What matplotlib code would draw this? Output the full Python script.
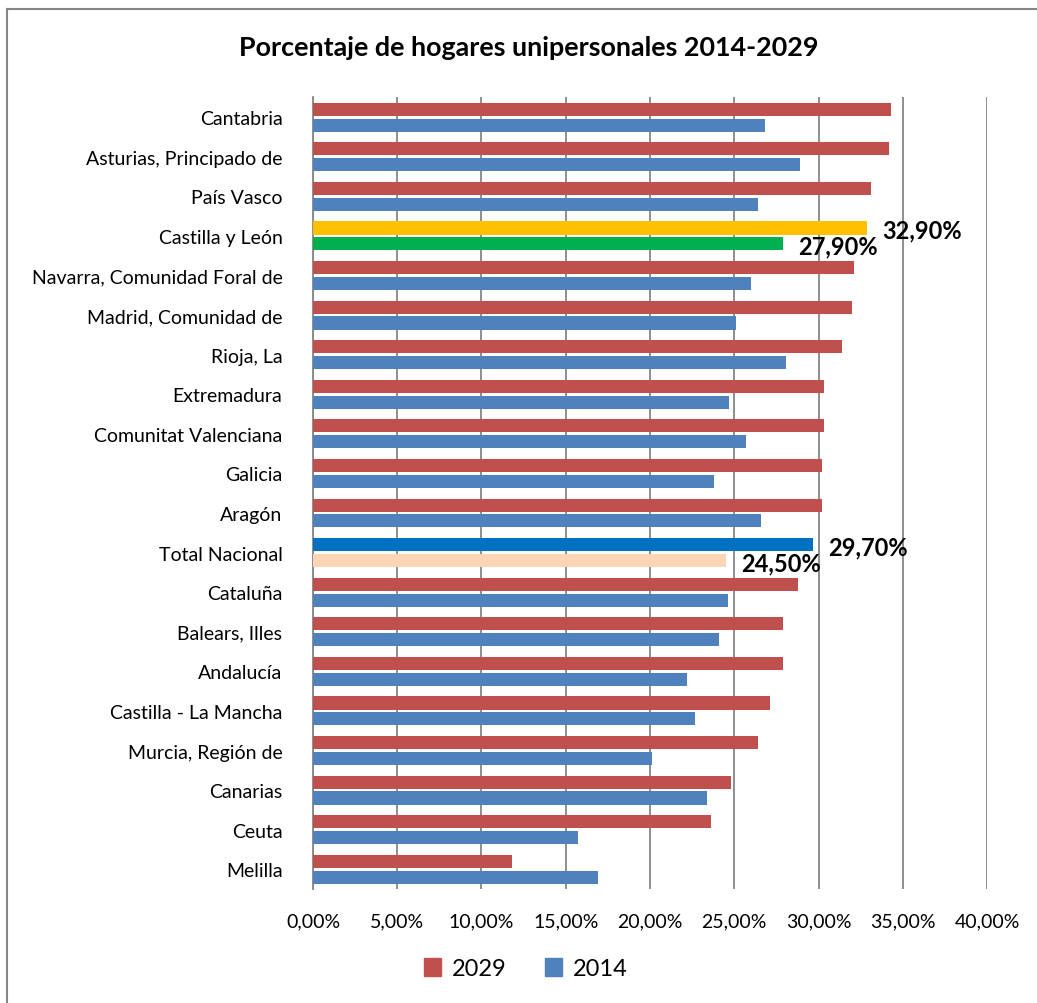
import numpy as np
import matplotlib
matplotlib.use('Agg')
import matplotlib.pyplot as plt
import matplotlib.patches as mpatches
from matplotlib.lines import Line2D


plt.rcParams['font.family'] = ['Lato', 'DejaVu Sans']

regions = ['Cantabria', 'Asturias, Principado de', 'País Vasco', 'Castilla y León',
           'Navarra, Comunidad Foral de', 'Madrid, Comunidad de', 'Rioja, La',
           'Extremadura', 'Comunitat Valenciana', 'Galicia', 'Aragón', 'Total Nacional',
           'Cataluña', 'Balears, Illes', 'Andalucía', 'Castilla - La Mancha',
           'Murcia, Región de', 'Canarias', 'Ceuta', 'Melilla']
pct_2029 = [34.3, 34.2, 33.1, 32.9, 32.1, 32.0, 31.4, 30.3, 30.3, 30.2, 30.2, 29.7,
            28.8, 27.9, 27.9, 27.1, 26.4, 24.8, 23.6, 11.8]
pct_2014 = [26.8, 28.9, 26.4, 27.9, 26.0, 25.1, 28.1, 24.7, 25.7, 23.8, 26.6, 24.5,
            24.6, 24.1, 22.2, 22.7, 20.1, 23.4, 15.7, 16.9]
highlighted = ['Castilla y León', 'Total Nacional']
highlight_colors = {'Castilla y León': ('#FFC000', '#00B050'),
                    'Total Nacional': ('#0070C0', '#FCD5B5')}

red = '#C0504D'
blue = '#4F81BD'

fig = plt.figure(figsize=(10.37, 10.04), dpi=100)
ax = fig.add_axes([0.3018, 0.1135, 0.6500, 0.7885])

y = np.arange(len(regions))
colors_2029 = [highlight_colors[r][0] if r in highlight_colors else red for r in regions]
colors_2014 = [highlight_colors[r][1] if r in highlight_colors else blue for r in regions]
ax.barh(y - 0.2, pct_2029, height=0.33, color=colors_2029, zorder=3)
ax.barh(y + 0.2, pct_2014, height=0.33, color=colors_2014, zorder=3)

# labels only on the highlighted rows
for name in highlighted:
    i = regions.index(name)
    for val, off in ((pct_2029[i], -0.2), (pct_2014[i], 0.2)):
        ax.annotate(f'{val:.2f}%'.replace('.', ','), (val, i + off + 0.05),
                    xytext=(15, 0), textcoords='offset pixels',
                    ha='left', va='center', fontsize=17, fontweight='bold', zorder=4)

ax.set_xlim(0, 40)
ax.set_ylim(len(regions) - 0.5, -0.5)
ax.set_xticks(np.arange(0, 41, 5))
ax.set_xticklabels([f'{v:.2f}%'.replace('.', ',') for v in np.arange(0, 41, 5)], fontsize=14)
ax.set_yticks(y)
ax.set_yticklabels(regions, fontsize=14)
ax.tick_params(axis='y', length=0, pad=22)
ax.tick_params(axis='x', length=0, pad=17)
ax.grid(axis='x', color='#868686', linewidth=1.3, zorder=0)
for side in ['top', 'right', 'bottom']:
    ax.spines[side].set_visible(False)
ax.spines['left'].set_color('#868686')
ax.spines['left'].set_linewidth(1.3)

fig.text(0.51, 0.952, 'Porcentaje de hogares unipersonales 2014-2029',
         ha='center', va='center', fontsize=19.4, fontweight='bold')

handles = [mpatches.Patch(color=red, label='2029'), mpatches.Patch(color=blue, label='2014')]
fig.legend(handles=handles, loc='center', bbox_to_anchor=(0.507, 0.034), ncol=2,
           frameon=False, fontsize=17, handlelength=0.75, handleheight=0.75,
           columnspacing=1.6, handletextpad=0.45)

# chart frame
fig.add_artist(Line2D([0.0065, 1.0], [0.990, 0.990], color='#868686', linewidth=1.5))
fig.add_artist(Line2D([0.0065, 0.0065], [0.0, 0.990], color='#868686', linewidth=1.5))

fig.savefig('out.png', dpi=100)
